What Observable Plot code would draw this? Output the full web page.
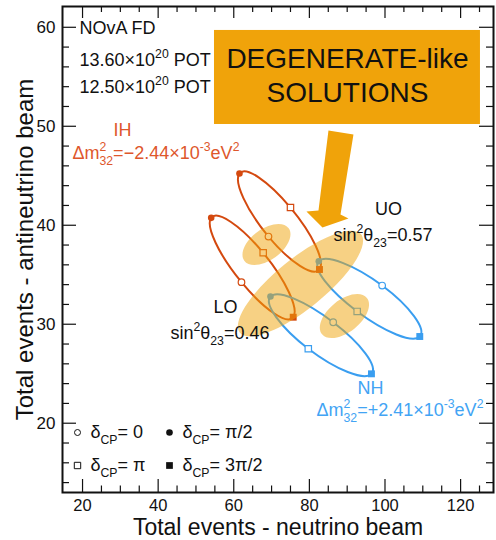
<!DOCTYPE html>
<html><head><meta charset="utf-8">
<script src="https://cdn.jsdelivr.net/npm/d3@7"></script>
<script src="https://cdn.jsdelivr.net/npm/@observablehq/plot@0.6"></script>
<style>body{margin:0;background:#fff;} #chart svg{display:block}</style>
</head><body><div id="chart"></div>
<script>
// ---- data ----
const deltaCP = ["0", "π/2", "π", "3π/2"];
// predicted event counts (x: neutrino beam, y: antineutrino beam) at δCP = 0, π/2, π, 3π/2
const ihUO_x = [69.18, 61.51, 75.00, 82.67];
const ihUO_y = [38.86, 45.23, 41.79, 35.53];
const ihLO_x = [62.04, 54.03, 67.78, 75.72];
const ihLO_y = [34.25, 40.75, 37.22, 30.71];
const nhUO_x = [99.25, 82.49, 92.64, 109.20];
const nhUO_y = [33.91, 36.37, 31.29, 28.76];
const nhLO_x = [86.30, 69.71, 79.71, 96.42];
const nhLO_y = [30.20, 32.80, 27.52, 24.99];
// shaded "degenerate" regions: four conjugate boundary points each
const blobA_x = [74.53, 66.25, 62.78, 71.06];
const blobA_y = [39.69, 39.32, 36.42, 36.79];
const blobB_x = [93.67, 73.49, 61.62, 81.80];
const blobB_y = [39.08, 36.07, 29.15, 32.15];
const blobC_x = [95.21, 86.61, 83.36, 91.96];
const blobC_y = [32.66, 32.08, 29.00, 29.58];
// axis ticks
const majorX = [20, 40, 60, 80, 100, 120];
const minorX = d3.range(20, 126, 5).filter(v => v % 20 !== 0);
const majorY = [20, 30, 40, 50, 60];
const minorY = d3.range(14, 61, 2).filter(v => v % 10 !== 0);
const legendLabels = ["δ_{CP}= 0", "δ_{CP}= π/2", "δ_{CP}= π", "δ_{CP}= 3π/2"];

// ---- layout / styles ----
const IH = "#d4490f", IHtext = "#de572c", NH = "#3a9ef0", NHtext = "#42a4f4", ORANGE = "#f0a30a";
const W = 496, H = 540, mL = 62, mR = 3, mT = 6, mB = 48;
const fw = W - mL - mR, fh = H - mT - mB;
const xDomain = [14.7, 128.7], yDomain = [13.0, 62.1];

const ellipses = [
  {id: "IH-UO", h: "IH", xs: ihUO_x, ys: ihUO_y},
  {id: "IH-LO", h: "IH", xs: ihLO_x, ys: ihLO_y},
  {id: "NH-UO", h: "NH", xs: nhUO_x, ys: nhUO_y},
  {id: "NH-LO", h: "NH", xs: nhLO_x, ys: nhLO_y}
];
const pts = ellipses.flatMap(e => e.xs.map((x, i) => ({id: e.id, h: e.h, delta: deltaCP[i], x, y: e.ys[i]})));
const blobs = [["A", blobA_x, blobA_y], ["B", blobB_x, blobB_y], ["C", blobC_x, blobC_y]]
  .flatMap(([id, xs, ys]) => xs.map((x, i) => ({id, x, y: ys[i]})));

// annotation anchors (data coordinates)
const boxArea = [{x1: 54.9, x2: 125.25, y1: 50.18, y2: 59.68}];
const arrowPoly = [
  {x: 85.05, y: 49.57}, {x: 91.66, y: 49.17}, {x: 88.23, y: 41.09}, {x: 90.34, y: 40.68},
  {x: 83.46, y: 39.77}, {x: 79.23, y: 41.39}, {x: 82.41, y: 41.49}
];
const notes = [
  {x: 19.2, y: 59.88, t: "NOvA FD", c: "#111", a: "start"},
  {x: 19.2, y: 56.64, t: "13.60×10^{20} POT", c: "#111", a: "start"},
  {x: 19.2, y: 53.92, t: "12.50×10^{20} POT", c: "#111", a: "start"},
  {x: 30.57, y: 49.57, t: "IH", c: IHtext, a: "middle"},
  {x: 17.34, y: 47.25, t: "Δm^{2}_{32}=−2.44×10^{-3}eV^{2}", c: IHtext, a: "start"},
  {x: 100.92, y: 41.59, t: "UO", c: "#111", a: "middle"},
  {x: 86.37, y: 38.96, t: "sin^{2}θ_{23}=0.57", c: "#111", a: "start"},
  {x: 57.81, y: 31.69, t: "LO", c: "#111", a: "middle"},
  {x: 43.26, y: 29.06, t: "sin^{2}θ_{23}=0.46", c: "#111", a: "start"},
  {x: 96.16, y: 23.51, t: "NH", c: NHtext, a: "middle"},
  {x: 81.88, y: 21.28, t: "Δm^{2}_{32}=+2.41×10^{-3}eV^{2}", c: NHtext, a: "start"}
];
const legendPos = [
  {dx: 15, dy: -60, sym: "circle", fill: "none", stroke: "#111", r: 3},
  {dx: 107, dy: -60, sym: "circle", fill: "#111", stroke: "none", r: 3.3},
  {dx: 15, dy: -27, sym: "square", fill: "none", stroke: "#111", r: 3.6},
  {dx: 107, dy: -27, sym: "square", fill: "#111", stroke: "none", r: 3.8}
];

const K = -0.657; // cardinal tension giving a true ellipse through four conjugate points
const marks = [
  Plot.rect(boxArea, {x1: "x1", x2: "x2", y1: "y1", y2: "y2", fill: ORANGE}),
  Plot.text(["DEGENERATE-like\nSOLUTIONS"], {x: (boxArea[0].x1 + boxArea[0].x2) / 2, y: (boxArea[0].y1 + boxArea[0].y2) / 2 + 0.35, fontSize: 28, lineHeight: 1.2, fill: "#111"}),
  Plot.line(arrowPoly, {x: "x", y: "y", curve: "linear-closed", fill: ORANGE, stroke: "none"}),
  Plot.line(pts.filter(d => d.h === "IH"), {x: "x", y: "y", z: "id", curve: "cardinal-closed", tension: K, stroke: IH, strokeWidth: 2}),
  Plot.line(pts.filter(d => d.h === "NH"), {x: "x", y: "y", z: "id", curve: "cardinal-closed", tension: K, stroke: NH, strokeWidth: 2}),
];
for (const [h, col] of [["IH", IH], ["NH", NH]]) {
  const p = pts.filter(d => d.h === h);
  marks.push(
    Plot.dot(p.filter(d => d.delta === "0"), {x: "x", y: "y", symbol: "circle", r: 3.3, stroke: col, fill: "white", strokeWidth: 1.2}),
    Plot.dot(p.filter(d => d.delta === "π/2"), {x: "x", y: "y", symbol: "circle", r: 3.3, fill: col, stroke: "none"}),
    Plot.dot(p.filter(d => d.delta === "π"), {x: "x", y: "y", symbol: "square", r: 3.6, stroke: col, fill: "white", strokeWidth: 1.2}),
    Plot.dot(p.filter(d => d.delta === "3π/2"), {x: "x", y: "y", symbol: "square", r: 3.9, fill: col, stroke: "none"})
  );
}
marks.push(
  Plot.line(blobs, {x: "x", y: "y", z: "id", curve: "cardinal-closed", tension: K, fill: ORANGE, fillOpacity: 0.5, stroke: "none"}),
  Plot.text(notes.filter(d => d.a === "start"), {x: "x", y: "y", text: "t", fill: "c", textAnchor: "start", fontSize: 18}),
  Plot.text(notes.filter(d => d.a === "middle"), {x: "x", y: "y", text: "t", fill: "c", textAnchor: "middle", fontSize: 18}),
  ...legendPos.map((l, i) => Plot.dot([0], {frameAnchor: "bottom-left", dx: l.dx, dy: l.dy, symbol: l.sym, r: l.r, fill: l.fill, stroke: l.stroke, strokeWidth: 1})),
  ...legendPos.map((l, i) => Plot.text([legendLabels[i]], {frameAnchor: "bottom-left", dx: l.dx + 13, dy: l.dy, textAnchor: "start", lineAnchor: "middle", fontSize: 18, fill: "#111"})),
  // ticks (inward, on all four sides)
  Plot.tickX(majorX, {x: d => d, insetTop: fh - 13, stroke: "#111", strokeWidth: 1.2}),
  Plot.tickX(minorX, {x: d => d, insetTop: fh - 6.5, stroke: "#111", strokeWidth: 1.2}),
  Plot.tickX(majorX, {x: d => d, insetBottom: fh - 12, stroke: "#111", strokeWidth: 1.2}),
  Plot.tickX(minorX, {x: d => d, insetBottom: fh - 6, stroke: "#111", strokeWidth: 1.2}),
  Plot.tickY(majorY, {y: d => d, insetRight: fw - 14, stroke: "#111", strokeWidth: 1.2}),
  Plot.tickY(minorY, {y: d => d, insetRight: fw - 7, stroke: "#111", strokeWidth: 1.2}),
  Plot.tickY(majorY, {y: d => d, insetLeft: fw - 14, stroke: "#111", strokeWidth: 1.2}),
  Plot.tickY(minorY, {y: d => d, insetLeft: fw - 7, stroke: "#111", strokeWidth: 1.2}),
  Plot.axisX({ticks: majorX, tickSize: 0, tickPadding: 7, fontSize: 16.5, label: null}),
  Plot.axisY({ticks: majorY, tickSize: 0, tickPadding: 7, fontSize: 17, label: null}),
  Plot.text(["Total events - neutrino beam"], {frameAnchor: "bottom", textAnchor: "middle", lineAnchor: "middle", dy: 35.6, fontSize: 23, fill: "#111"}),
  Plot.text(["Total events - antineutrino beam"], {frameAnchor: "left", textAnchor: "middle", lineAnchor: "middle", dx: -37.5, rotate: -90, fontSize: 24, fill: "#111"}),
  Plot.frame({stroke: "#111", strokeWidth: 2})
);

const svg = Plot.plot({
  width: W, height: H,
  marginLeft: mL, marginRight: mR, marginTop: mT, marginBottom: mB,
  x: {domain: xDomain},
  y: {domain: yDomain},
  style: {fontFamily: "'Liberation Sans', Arial, Helvetica, sans-serif", color: "#111", background: "white"},
  marks
});
document.getElementById("chart").appendChild(svg);

// render ^{..} and _{..} as super/subscript tspans
(function richText(root) {
  const NS = "http://www.w3.org/2000/svg";
  root.querySelectorAll("text").forEach(el => {
    const s = el.textContent;
    if (!/[\^_]\{/.test(s)) return;
    const F = parseFloat(getComputedStyle(el).fontSize);
    const small = F * 0.68;
    el.textContent = "";
    const re = /([\^_])\{([^}]*)\}|([^\^_]+)/g;
    let m, cur = 0, lastSup = null;
    while ((m = re.exec(s))) {
      const t = document.createElementNS(NS, "tspan");
      let target = 0, size = F;
      if (m[1] === "^") { target = -0.45 * F; size = small; }
      else if (m[1] === "_") { target = 0.33 * F; size = small; }
      t.textContent = m[1] ? m[2] : m[3];
      t.setAttribute("font-size", size);
      const d = target - cur;
      if (d) t.setAttribute("dy", d.toFixed(2));
      cur = target;
      el.appendChild(t);
      if (m[1] === "_" && lastSup) t.setAttribute("dx", (-lastSup.getComputedTextLength()).toFixed(2));
      lastSup = m[1] === "^" ? t : null;
    }
  });
})(svg);
</script>
</body></html>
